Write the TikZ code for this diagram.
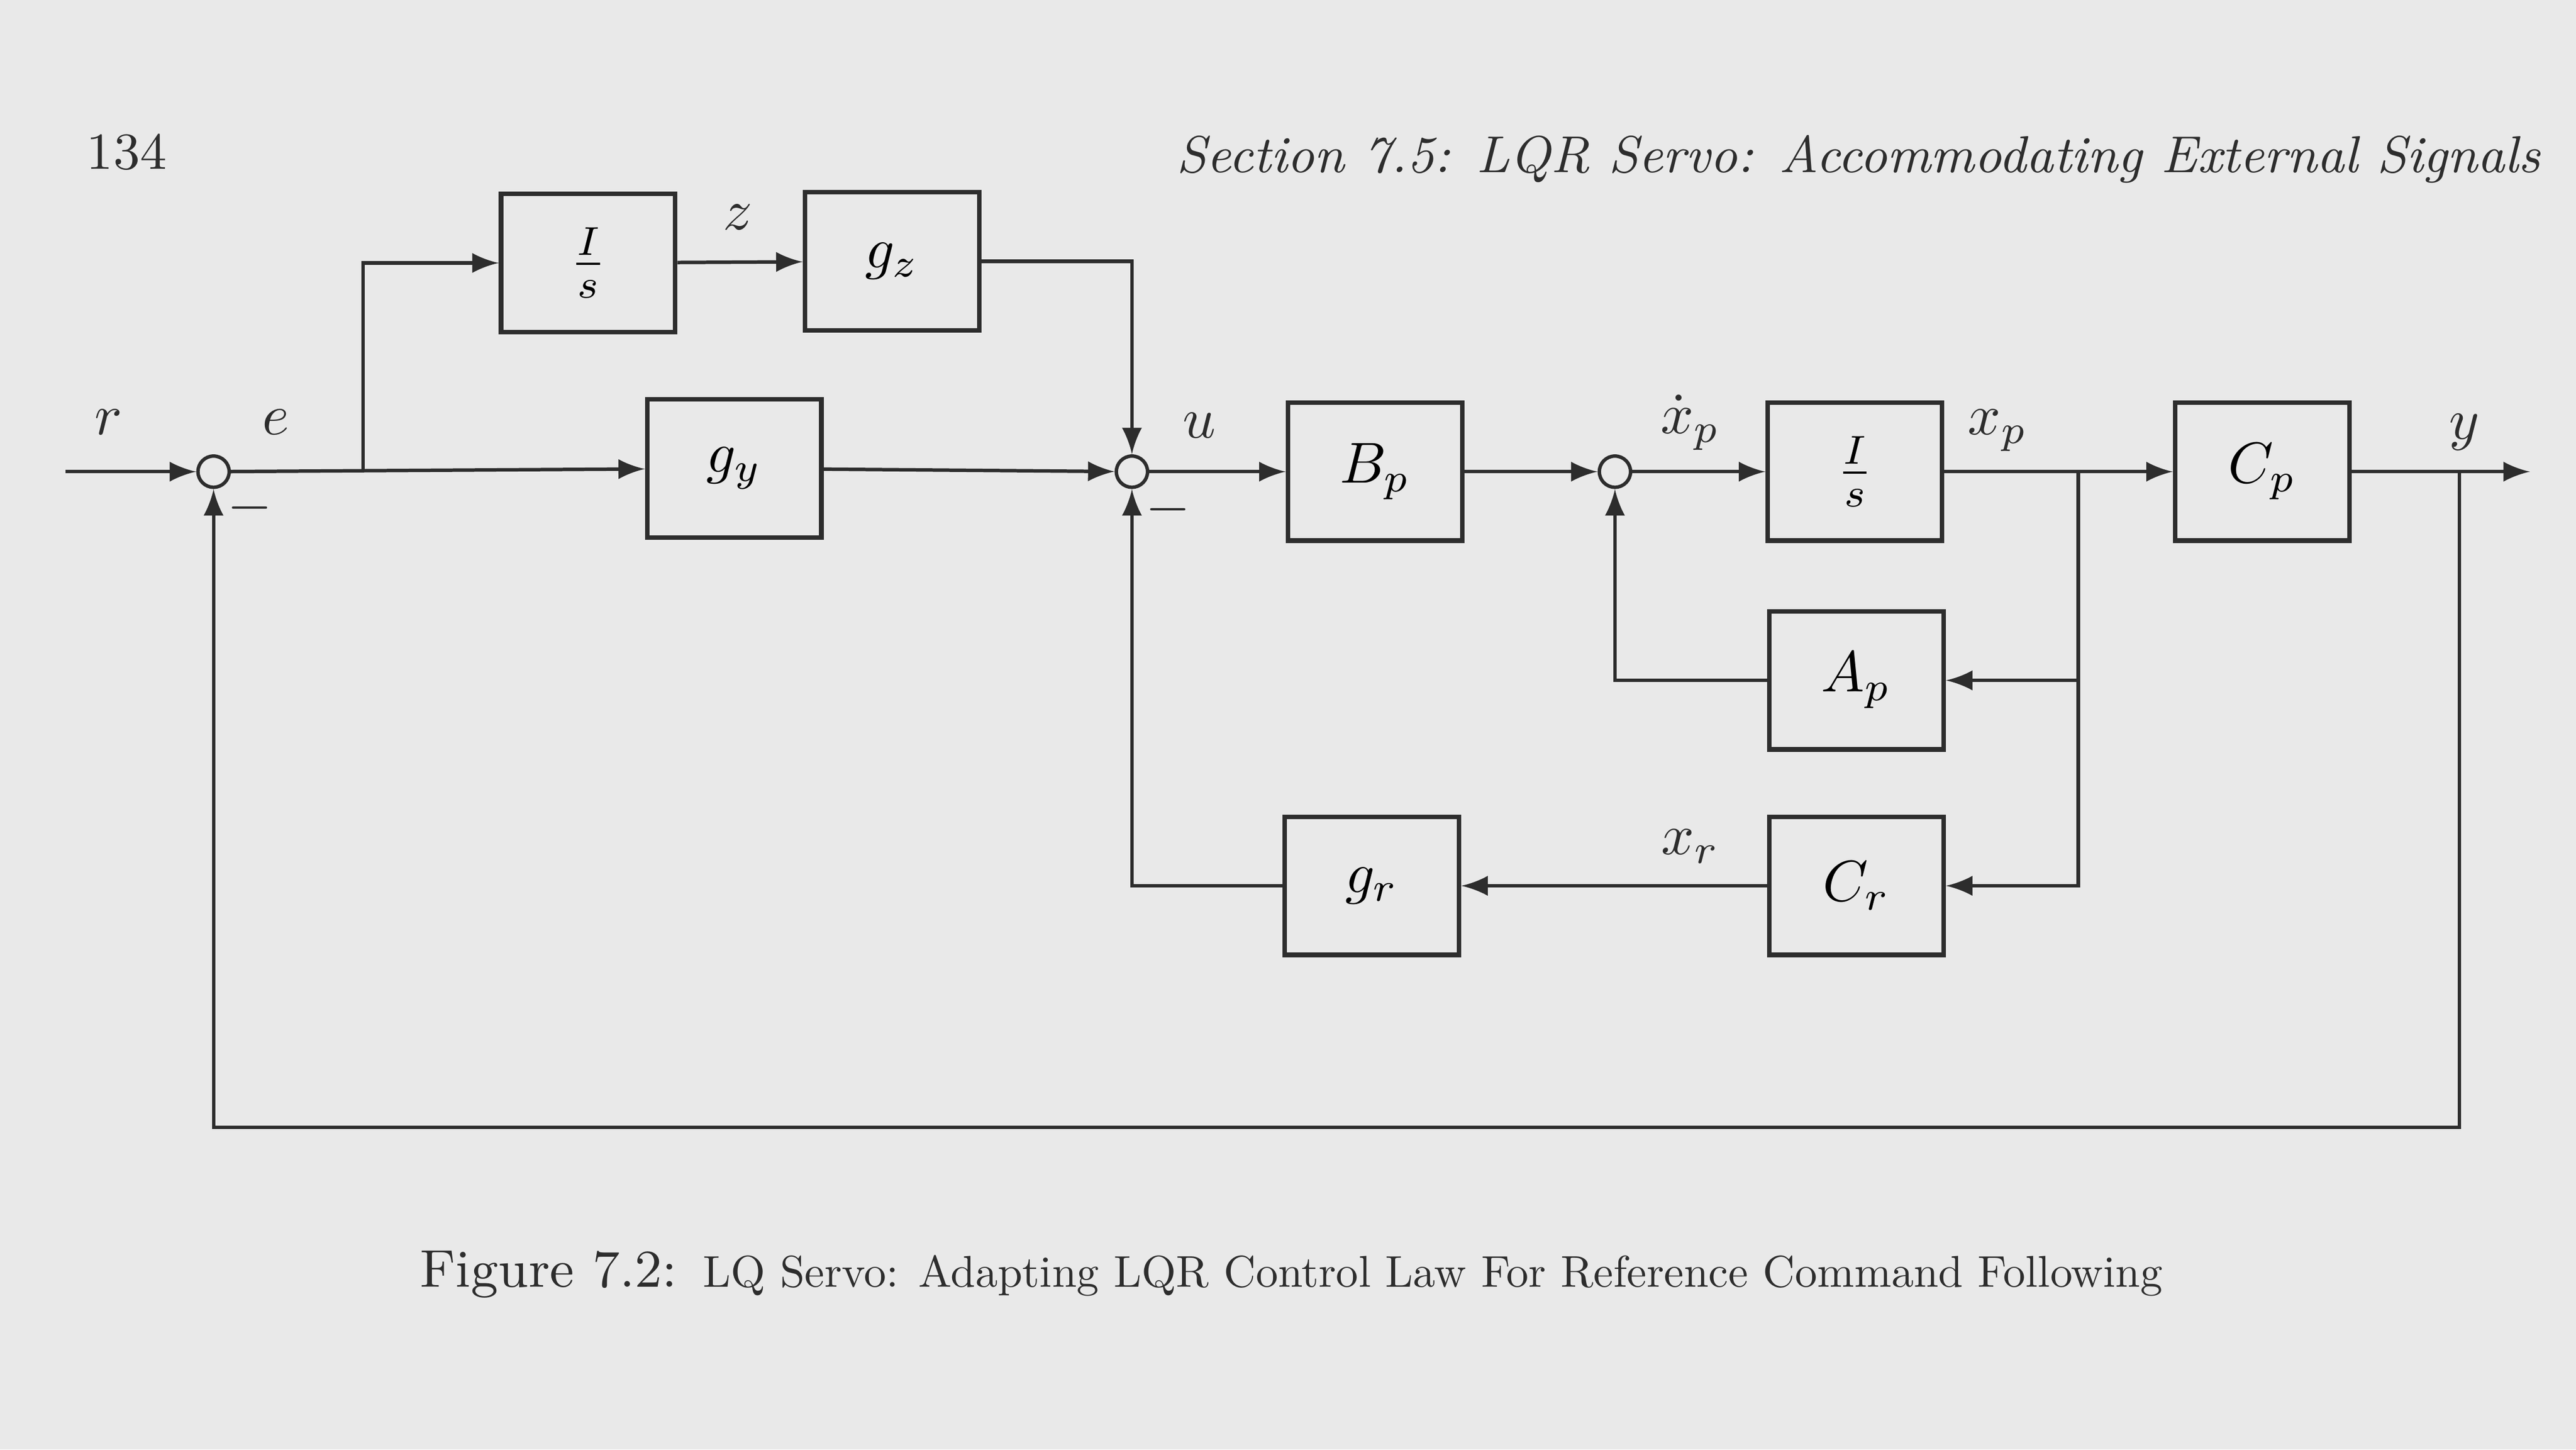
\documentclass[tikz,border=0pt]{standalone}
\usepackage{amssymb,amsmath}
\usepackage{tikz}
\usetikzlibrary{%
  arrows,%
  calc,%
  positioning%
}
\definecolor{paper}{RGB}{233,233,233}
\definecolor{ink}{RGB}{45,45,45}
\tikzset{
  block/.style={draw=ink,line width=0.8pt,minimum width=1.06cm,minimum height=0.84cm,inner sep=0pt},
  sumpt/.style={draw=ink,circle,line width=0.6pt,minimum size=0.19cm,inner sep=0pt},
  sig/.style={draw=ink,line width=0.6pt,-latex},
  lbl/.style={text=ink,inner sep=0pt}
}
\begin{document}
\begin{tikzpicture}
  \fill[paper] (0,0) rectangle (15.68,-8.82);
  \useasboundingbox (0,0) rectangle (15.68,-8.82);
  % page head
  \node[lbl,anchor=base west,font=\fontsize{9}{11}\selectfont] (page) at (0.52,-1.03) {134};
  \node[lbl,anchor=base east,font=\fontsize{9}{11}\selectfont] (head) at (15.47,-1.05)
  {\itshape Section 7.5: LQR Servo: Accommodating External Signals};
  % blocks
  \node[sumpt] (s1) at (1.30,-2.87) {};
  \node[block] (int1) at (3.58,-1.60) {$\frac{I}{s}$};
  \node[block] (gz) at (5.43,-1.59) {$g_z$};
  \node[block] (gy) at (4.47,-2.85) {$g_y$};
  \node[sumpt] (s2) at (6.89,-2.87) {};
  \node[block] (bp) at (8.37,-2.87) {$B_p$};
  \node[sumpt] (s3) at (9.83,-2.87) {};
  \node[block] (int2) at (11.29,-2.87) {$\frac{I}{s}$};
  \node[block] (cp) at (13.77,-2.87) {$C_p$};
  \node[block] (ap) at (11.30,-4.14) {$A_p$};
  \node[block] (cr) at (11.30,-5.39) {$C_r$};
  \node[block] (gr) at (8.35,-5.39) {$g_r$};
  \coordinate (in) at (0.40,-2.87);
  \coordinate (out) at (15.40,-2.87);
  \coordinate (b1) at (2.21,-2.87);
  \coordinate (b2) at (12.65,-2.87);
  \coordinate (b3) at (14.97,-2.87);
  \coordinate (fb) at (1.30,-6.86);
  % signals
  \draw[sig] (in) -- (s1);
  \draw[sig] (s1) -- (gy);
  \draw[sig] (b1) |- (int1.west);
  \draw[sig] (int1) -- (gz);
  \draw[sig] (gz.east) -| (s2.north);
  \draw[sig] (gy) -- (s2);
  \draw[sig] (s2) -- (bp);
  \draw[sig] (bp) -- (s3);
  \draw[sig] (s3) -- (int2);
  \draw[sig] (int2) -- (cp);
  \draw[sig] (cp) -- (out);
  \draw[sig] (b2) |- (cr.east);
  \draw[sig] (ap.east -| b2) -- (ap.east);
  \draw[sig] (ap.west) -| (s3.south);
  \draw[sig] (cr) -- (gr);
  \draw[sig] (gr.west) -| (s2.south);
  \draw[sig] (b3) |- (fb) -- (s1.south);
  % labels
  \node[lbl] (r) at (0.66,-2.57) {$r$};
  \node[lbl] (e) at (1.68,-2.57) {$e$};
  \node[lbl] (m1) at (1.52,-3.09) {$-$};
  \node[lbl] (m2) at (7.11,-3.10) {$-$};
  \node[lbl] (z) at (4.49,-1.32) {$z$};
  \node[lbl] (u) at (7.30,-2.59) {$u$};
  \node[lbl] (xpd) at (10.29,-2.57) {$\dot{x}_p$};
  \node[lbl] (xp) at (12.16,-2.62) {$x_p$};
  \node[lbl] (y) at (15.00,-2.63) {$y$};
  \node[lbl] (xr) at (10.29,-5.15) {$x_r$};
  % caption
  \node[lbl,anchor=base west] (cap) at (2.55,-7.83)
  {{\fontsize{9.2}{11}\selectfont Figure 7.2:} \scalebox{0.77}{\fontsize{10}{12}\selectfont LQ Servo: Adapting LQR Control Law For Reference Command Following}};
\end{tikzpicture}
\end{document}
